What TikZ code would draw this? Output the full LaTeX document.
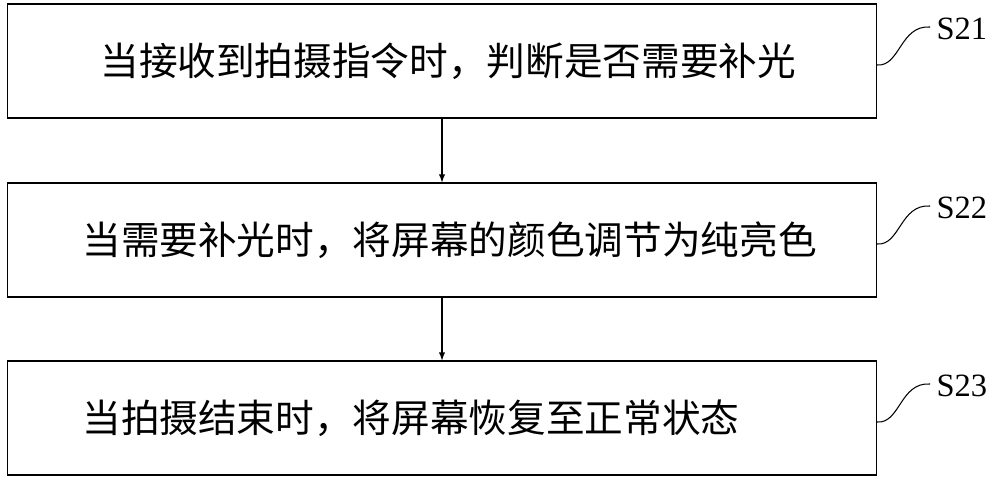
\documentclass[tikz,border=0pt]{standalone}
\usepackage{fontspec}
\setmainfont{Liberation Serif}
\newfontfamily\cjk{Noto Sans CJK SC}
\usetikzlibrary{positioning}

\begin{document}
\begin{tikzpicture}[x=0.02cm,y=-0.02cm,>=latex,semithick]
  \tikzset{stepbox/.style={draw,minimum width=17.38cm,minimum height=2.28cm,inner sep=0pt},
           steptext/.style={font=\cjk\fontsize{22pt}{25pt}\selectfont,anchor=west},
           steplabel/.style={font=\fontsize{18.5pt}{20pt}\selectfont,anchor=west,inner sep=0pt}}
  \useasboundingbox (0,0) rectangle (1000,483);

  \node[stepbox] (B1) at (442,61)  {};
  \node[stepbox] (B2) at (442,240) {};
  \node[stepbox] (B3) at (442,418) {};

  \node[steptext] (T1) at (94,61)  {当接收到拍摄指令时，判断是否需要补光};
  \node[steptext] (T2) at (76,240) {当需要补光时，将屏幕的颜色调节为纯亮色};
  \node[steptext] (T3) at (76,418) {当拍摄结束时，将屏幕恢复至正常状态};

  \draw[->] (B1) -- (B2);
  \draw[->] (B2) -- (B3);

  % step labels with squiggles
  \foreach \s/\y in {S21/61, S22/240, S23/418} {
    \coordinate (C\s) at (930,\y-34);
    \node[steplabel] (L\s) at (936,\y-32) {\s};
    \draw (877,\y+4) .. controls (900,\y+6) and (900,\y-36) .. (C\s);
  }
\end{tikzpicture}
\end{document}
